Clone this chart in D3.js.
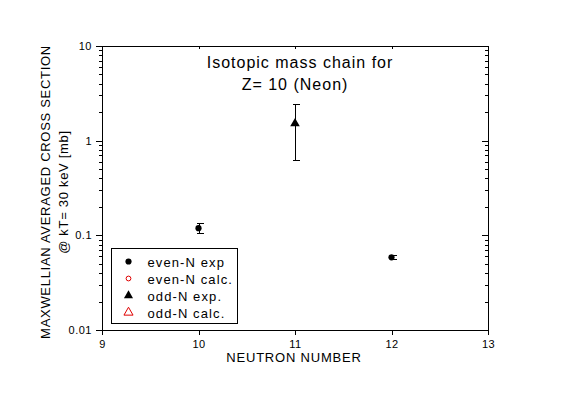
<!DOCTYPE html>
<meta charset="utf-8">
<style>
body { margin: 0; background: #fff; }
text { font-family: Arial, "Liberation Sans", sans-serif; fill: #000; }
.axis path, .axis line { stroke: #000; stroke-width: 1px; shape-rendering: crispEdges; }
</style>
<body>
<script src="https://d3js.org/d3.v7.min.js"></script>
<script>

// data
var evenN = [10, 12];
var evenVal = [0.119, 0.0586];
var evenErr = [0.014, 0.003];

var oddN = [11];
var oddVal = [1.52];
var oddErr = [0.91];

var xTicks = [9, 10, 11, 12, 13];
var yTicks = [0.01, 0.1, 1, 10];

var legendLabels = ["even-N exp", "even-N calc.", "odd-N exp.", "odd-N calc."];

// dimensions
var margin = {top: 46, right: 79, bottom: 65, left: 102},
    width = 567 - margin.left - margin.right,
    height = 395 - margin.top - margin.bottom;

var x = d3.scaleLinear().domain([9, 13]).range([0, width]);
var y = d3.scaleLog().domain([0.01, 10]).range([height, 0]);

var svg = d3.select("body").append("svg")
    .attr("width", 567)
    .attr("height", 395)
  .append("g")
    .attr("transform", "translate(" + margin.left + "," + margin.top + ")");

// minor ticks for the log axis
var minor = [];
[0.01, 0.1, 1].forEach(function(d) {
    for (var k = 2; k <= 9; k++) minor.push(d * k);
});

// left axis: outward ticks
svg.append("g").attr("class", "axis")
    .call(d3.axisLeft(y).tickValues(minor).tickSize(3).tickFormat(""))
    .select(".domain").remove();
svg.append("g").attr("class", "axis")
    .call(d3.axisLeft(y).tickValues(yTicks).tickSize(6).tickPadding(4)
        .tickFormat(function(d) { return d >= 1 ? d3.format("d")(d) : String(d); }))
    .selectAll("text").style("font-size", "11px").style("letter-spacing", "0.5px");

// right axis: inward ticks
var right = svg.append("g").attr("class", "axis")
    .attr("transform", "translate(" + width + ",0)");
right.call(d3.axisLeft(y).tickValues(minor).tickSize(3).tickFormat(""));
right.append("g").call(d3.axisLeft(y).tickValues(yTicks).tickSize(6).tickFormat(""))
    .select(".domain").remove();

// bottom axis
svg.append("g").attr("class", "axis")
    .attr("transform", "translate(0," + height + ")")
    .call(d3.axisBottom(x).tickValues(xTicks).tickSize(5).tickPadding(5).tickFormat(d3.format("d")))
    .selectAll("text").style("font-size", "11px").style("letter-spacing", "0.5px");

// top axis: inward ticks
svg.append("g").attr("class", "axis")
    .call(d3.axisBottom(x).tickValues(xTicks).tickSize(3).tickFormat(""));

// error bars
function errBar(xv, v, e) {
    var g = svg.append("g").attr("stroke", "#000").attr("shape-rendering", "crispEdges");
    var cx = Math.round(x(xv)) + 0.5;
    var top = y(v + e), bot = y(v - e);
    g.append("line").attr("x1", cx).attr("x2", cx).attr("y1", top).attr("y2", bot);
    g.append("line").attr("x1", cx - 3).attr("x2", cx + 4).attr("y1", top).attr("y2", top);
    g.append("line").attr("x1", cx - 3).attr("x2", cx + 4).attr("y1", bot).attr("y2", bot);
}

evenN.forEach(function(n, i) { errBar(n, evenVal[i], evenErr[i]); });
oddN.forEach(function(n, i) { errBar(n, oddVal[i], oddErr[i]); });

var circle = d3.symbol().type(d3.symbolCircle).size(30);
var tri = d3.symbol().type(d3.symbolTriangle).size(40);

svg.selectAll(".even").data(evenN).enter().append("path")
    .attr("d", circle)
    .attr("transform", function(d, i) { return "translate(" + x(d) + "," + y(evenVal[i]) + ")"; })
    .attr("fill", "#000");

svg.selectAll(".odd").data(oddN).enter().append("path")
    .attr("d", tri)
    .attr("transform", function(d, i) { return "translate(" + x(d) + "," + y(oddVal[i]) + ")"; })
    .attr("fill", "#000");

// title
var title = svg.append("text")
    .attr("x", 197)
    .attr("y", 22)
    .attr("text-anchor", "middle")
    .style("font-size", "16px")
    .style("letter-spacing", "1px");
title.append("tspan").attr("x", 198).text("Isotopic mass chain for");
title.append("tspan").attr("x", 193).attr("dy", 22).text("Z= 10 (Neon)");

// legend
var legend = svg.append("g").attr("transform", "translate(9.5,202.5)");
legend.append("rect")
    .attr("width", 126).attr("height", 75)
    .attr("fill", "none").attr("stroke", "#000");

var legSym = [
    {d: d3.symbol().type(d3.symbolCircle).size(30)(), fill: "#000", stroke: "none"},
    {d: d3.symbol().type(d3.symbolCircle).size(18)(), fill: "none", stroke: "#e00000"},
    {d: d3.symbol().type(d3.symbolTriangle).size(36)(), fill: "#000", stroke: "none"},
    {d: d3.symbol().type(d3.symbolTriangle).size(36)(), fill: "none", stroke: "#e00000"}
];

legendLabels.forEach(function(lab, i) {
    var row = legend.append("g").attr("transform", "translate(0," + (13 + i * 17) + ")");
    row.append("path")
        .attr("d", legSym[i].d)
        .attr("transform", "translate(17,0)")
        .attr("fill", legSym[i].fill)
        .attr("stroke", legSym[i].stroke);
    row.append("text")
        .attr("x", 36)
        .attr("y", 5)
        .style("font-size", "13px")
        .style("letter-spacing", "1.1px")
        .text(lab);
});

// axis labels
svg.append("text")
    .attr("x", width / 2 - 1)
    .attr("y", height + 32)
    .attr("text-anchor", "middle")
    .style("font-size", "13px")
    .style("letter-spacing", "0.8px")
    .text("NEUTRON NUMBER");

var ylab = svg.append("text")
    .attr("transform", "translate(-52," + (height / 2 + 4) + ") rotate(-90)")
    .attr("text-anchor", "middle")
    .style("font-size", "13px")
    .style("letter-spacing", "0.7px");
ylab.append("tspan").attr("x", 0).text("MAXWELLIAN AVERAGED CROSS SECTION");
ylab.append("tspan").attr("x", 0).attr("dy", 18).text("@ kT= 30 keV [mb]");

</script>
</body>
